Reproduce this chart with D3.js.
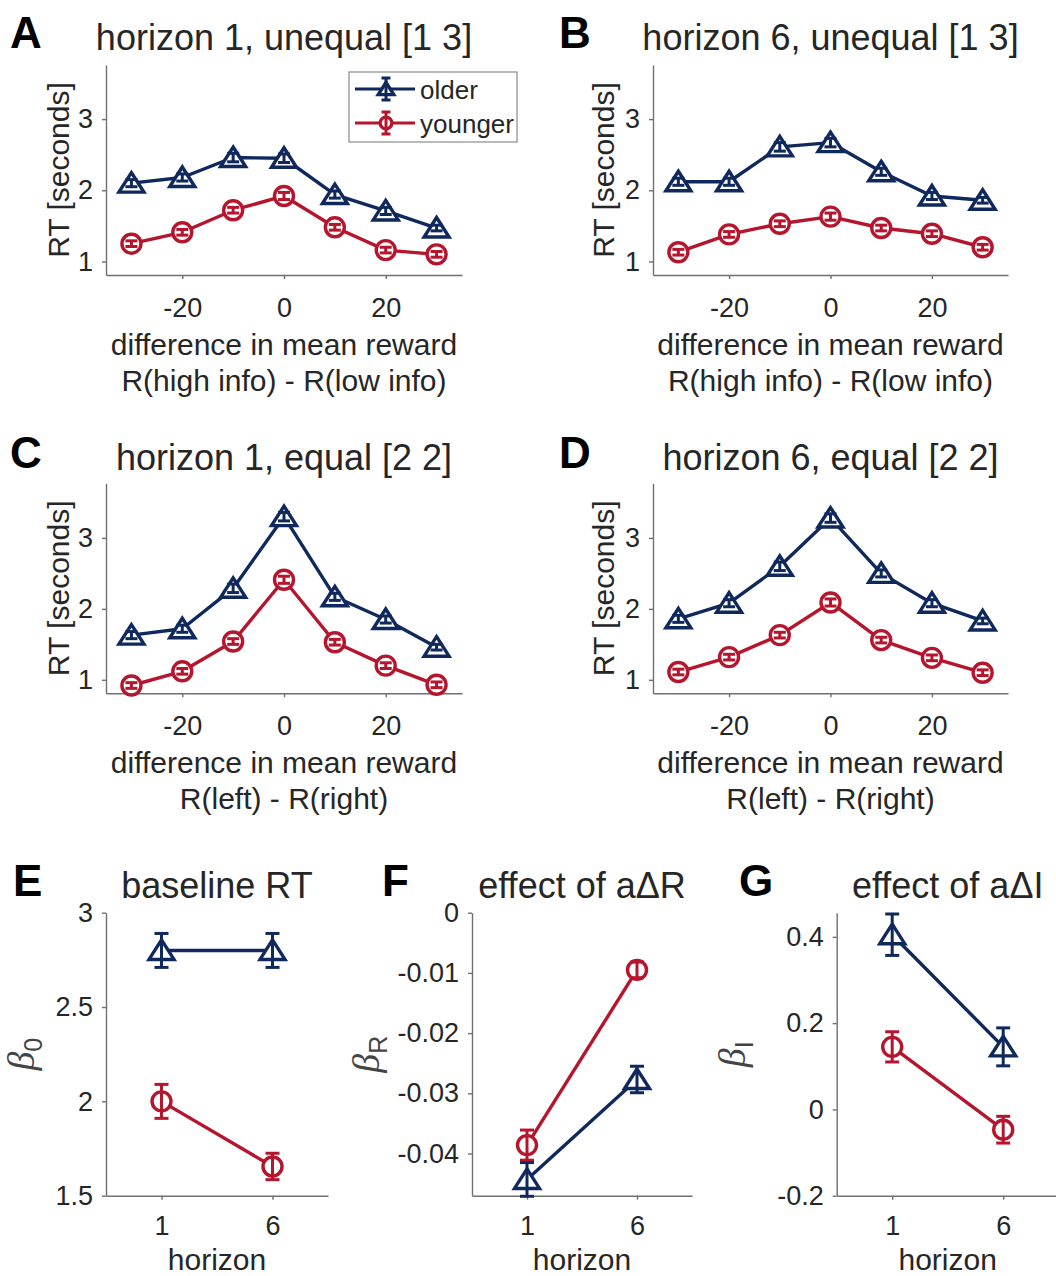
<!DOCTYPE html>
<html>
<head>
<meta charset="utf-8">
<script src="https://cdn.jsdelivr.net/npm/d3@7"></script>
<style>
  body { margin: 0; background: #fff; }
  text { font-family: "Liberation Sans", Arial, sans-serif; fill: #262626; }
</style>
</head>
<body>
<svg id="fig" width="1056" height="1276"></svg>
<script>
// ---- data ----
const rewardDiffs = [-30, -20, -10, 0, 10, 20, 30];

const olderA = [2.10, 2.18, 2.46, 2.45, 1.94, 1.71, 1.47];
const youngerA = [1.25, 1.41, 1.72, 1.92, 1.48, 1.16, 1.10];
const olderB = [2.12, 2.12, 2.61, 2.67, 2.26, 1.92, 1.86];
const youngerB = [1.13, 1.38, 1.53, 1.63, 1.47, 1.39, 1.20];
const olderC = [1.63, 1.72, 2.29, 3.30, 2.17, 1.85, 1.46];
const youngerC = [0.92, 1.12, 1.54, 2.41, 1.53, 1.20, 0.93];
const olderD = [1.86, 2.08, 2.60, 3.28, 2.50, 2.08, 1.83];
const youngerD = [1.11, 1.32, 1.63, 2.09, 1.56, 1.31, 1.10];

const olderErrRT = [0.05, 0.05, 0.06, 0.06, 0.05, 0.05, 0.04];
const youngerErrRT = [0.04, 0.04, 0.04, 0.05, 0.04, 0.04, 0.04];

const horizons = [1, 6];
const olderBaseline = [2.80, 2.80];
const olderBaselineErr = [0.09, 0.09];
const youngerBaseline = [2.00, 1.655];
const youngerBaselineErr = [0.09, 0.07];

const olderBetaR = [-0.0443, -0.0277];
const olderBetaRErr = [0.0028, 0.0022];
const youngerBetaR = [-0.0386, -0.0095];
const youngerBetaRErr = [0.0025, 0.0013];

const olderBetaI = [0.405, 0.145];
const olderBetaIErr = [0.048, 0.044];
const youngerBetaI = [0.145, -0.047];
const youngerBetaIErr = [0.035, 0.031];

const groupNames = ['older', 'younger'];
const rtTicksX = [-20, 0, 20];
const rtTicksY = [1, 2, 3];

// ---- style ----
const COLORS = { older: '#10295c', younger: '#b5152d' };
const AXIS_GRAY = '#707070';
const LINE_W = 3.4;

const svg = d3.select('#fig');

const trianglePath = 'M0,-10.5 L12.5,9 L-12.5,9 Z';

const drawMarker = (sel, group, cx, cy, part, scale = 1) => {
  const color = COLORS[group];
  const m = sel.append('g').attr('transform', `translate(${cx},${cy}) scale(${scale})`);
  if (group === 'older') {
    m.append('path')
      .attr('d', trianglePath)
      .attr('fill', part === 'fill' ? '#fff' : 'none')
      .attr('stroke', part === 'fill' ? 'none' : color)
      .attr('stroke-width', LINE_W / scale)
      .attr('stroke-linejoin', 'miter');
  } else {
    m.append('circle')
      .attr('r', 9.5)
      .attr('fill', part === 'fill' ? '#fff' : 'none')
      .attr('stroke', part === 'fill' ? 'none' : color)
      .attr('stroke-width', LINE_W / scale);
  }
};

const drawErrorBar = (sel, color, cx, yLo, yHi, cap) => {
  const g = sel.append('g').attr('stroke', color).attr('stroke-width', 3);
  g.append('line').attr('x1', cx).attr('x2', cx).attr('y1', yLo).attr('y2', yHi);
  g.append('line').attr('x1', cx - cap).attr('x2', cx + cap).attr('y1', yLo).attr('y2', yLo);
  g.append('line').attr('x1', cx - cap).attr('x2', cx + cap).attr('y1', yHi).attr('y2', yHi);
};

const drawPanel = (p) => {
  const g = svg.append('g');
  const x = d3.scaleLinear().domain(p.xDomain).range([p.left, p.right]);
  const y = d3.scaleLinear().domain(p.yDomain).range([p.bottom, p.top]);

  // axes
  const xAxis = g.append('g')
    .attr('transform', `translate(0,${p.bottom})`)
    .call(d3.axisBottom(x).tickValues(p.xTicks).tickSize(4).tickSizeOuter(0)
      .tickPadding(p.xPad).tickFormat((d) => String(d)));
  const yAxis = g.append('g')
    .attr('transform', `translate(${p.left},0)`)
    .call(d3.axisLeft(y).tickValues(p.yTicks).tickSize(4).tickSizeOuter(0)
      .tickPadding(9).tickFormat((d) => String(d)));
  [xAxis, yAxis].forEach((a) => {
    a.attr('font-size', 27).attr('font-family', null);
    a.selectAll('path.domain').attr('stroke', AXIS_GRAY).attr('stroke-width', 1.4);
    a.selectAll('.tick line').attr('stroke', AXIS_GRAY).attr('stroke-width', 1.4);
    a.selectAll('.tick text').style('fill', '#262626');
  });

  // series
  p.series.forEach((s) => {
    const pts = p.xs.map((xv, i) => [x(xv), y(s.values[i])]);
    g.append('path')
      .attr('d', d3.line()(pts))
      .attr('fill', 'none')
      .attr('stroke', COLORS[s.group])
      .attr('stroke-width', LINE_W)
      .attr('stroke-linejoin', 'round');
  });
  p.series.forEach((s) => {
    p.xs.forEach((xv, i) => {
      drawMarker(g, s.group, x(xv), y(s.values[i]), 'fill');
      drawErrorBar(g, COLORS[s.group], x(xv),
        y(s.values[i] - s.errors[i]), y(s.values[i] + s.errors[i]), p.cap);
      drawMarker(g, s.group, x(xv), y(s.values[i]), 'stroke');
    });
  });

  const cx = (p.left + p.right) / 2;
  const cy = (p.top + p.bottom) / 2;

  // title and panel letter
  g.append('text').attr('x', cx).attr('y', p.titleY)
    .attr('text-anchor', 'middle').attr('font-size', 36).text(p.title);
  g.append('text').attr('x', p.letterX).attr('y', p.titleY - 2)
    .attr('font-size', 44).attr('font-weight', 'bold').style('fill', '#000').text(p.letter);

  // x label(s)
  p.xLabels.forEach((t, i) => {
    g.append('text').attr('x', cx).attr('y', p.bottom + p.xLabelDy[i])
      .attr('text-anchor', 'middle').attr('font-size', 30).text(t);
  });

  // y label
  if (p.yLabelBeta) {
    const t = g.append('text')
      .attr('transform', `translate(${p.yLabelX},${cy}) rotate(-90)`)
      .attr('text-anchor', 'middle');
    t.append('tspan').attr('font-family', '"Liberation Serif", serif')
      .attr('font-style', 'italic').attr('font-size', 38).style('fill', '#444').text('β');
    t.append('tspan').attr('font-size', 25).attr('dy', 8).style('fill', '#444').text(p.yLabelBeta);
  } else {
    g.append('text')
      .attr('transform', `translate(${p.yLabelX},${cy}) rotate(-90)`)
      .attr('text-anchor', 'middle').attr('font-size', 30).text(p.yLabel);
  }
  return { g, x, y };
};

const rtSeries = (older, younger) => [
  { group: 'older', values: older, errors: olderErrRT },
  { group: 'younger', values: younger, errors: youngerErrRT },
];

const topRow = { top: 65, bottom: 275, yDomain: [0.81, 3.76], titleY: 50 };
const midRow = { top: 483.3, bottom: 693.3, yDomain: [0.81, 3.77], titleY: 470 };
const leftCol = { left: 106, right: 462, letterX: 10 };
const rightCol = { left: 653, right: 1008, letterX: 559 };
const rtCommon = {
  xs: rewardDiffs, xDomain: [-35, 35], xTicks: rtTicksX, yTicks: rtTicksY,
  xPad: 19, cap: 6, xLabelDy: [80, 116], yLabel: 'RT [seconds]',
};

drawPanel({
  ...rtCommon, ...topRow, ...leftCol, yLabelX: 69, letter: 'A',
  title: 'horizon 1, unequal [1 3]',
  xLabels: ['difference in mean reward', 'R(high info) - R(low info)'],
  series: rtSeries(olderA, youngerA),
});
drawPanel({
  ...rtCommon, ...topRow, ...rightCol, yLabelX: 614, letter: 'B',
  title: 'horizon 6, unequal [1 3]',
  xLabels: ['difference in mean reward', 'R(high info) - R(low info)'],
  series: rtSeries(olderB, youngerB),
});
drawPanel({
  ...rtCommon, ...midRow, ...leftCol, yLabelX: 69, letter: 'C',
  title: 'horizon 1, equal [2 2]',
  xLabels: ['difference in mean reward', 'R(left) - R(right)'],
  series: rtSeries(olderC, youngerC),
});
drawPanel({
  ...rtCommon, ...midRow, ...rightCol, yLabelX: 614, letter: 'D',
  title: 'horizon 6, equal [2 2]',
  xLabels: ['difference in mean reward', 'R(left) - R(right)'],
  series: rtSeries(olderD, youngerD),
});

const bottomRow = {
  top: 912.7, bottom: 1195.7, titleY: 898, xs: horizons, xDomain: [-1.5, 8.5],
  xTicks: horizons, xPad: 16, cap: 7, xLabels: ['horizon'], xLabelDy: [74],
};

drawPanel({
  ...bottomRow, left: 106, right: 328, letterX: 13, letter: 'E',
  title: 'baseline RT', yDomain: [1.5, 3], yTicks: [1.5, 2, 2.5, 3],
  yLabelBeta: '0', yLabelX: 34,
  series: [
    { group: 'older', values: olderBaseline, errors: olderBaselineErr },
    { group: 'younger', values: youngerBaseline, errors: youngerBaselineErr },
  ],
});
drawPanel({
  ...bottomRow, left: 472, right: 692, letterX: 382, letter: 'F',
  title: 'effect of a\u0394R', yDomain: [-0.047, 0], yTicks: [-0.04, -0.03, -0.02, -0.01, 0],
  yLabelBeta: 'R', yLabelX: 379,
  series: [
    { group: 'younger', values: youngerBetaR, errors: youngerBetaRErr },
    { group: 'older', values: olderBetaR, errors: olderBetaRErr },
  ],
});
drawPanel({
  ...bottomRow, left: 836.7, right: 1058.7, letterX: 739, letter: 'G',
  title: 'effect of a\u0394I', yDomain: [-0.2, 0.456], yTicks: [-0.2, 0, 0.2, 0.4],
  yLabelBeta: 'I', yLabelX: 745,
  series: [
    { group: 'older', values: olderBetaI, errors: olderBetaIErr },
    { group: 'younger', values: youngerBetaI, errors: youngerBetaIErr },
  ],
});

// ---- legend (inside panel A) ----
const legend = svg.append('g');
legend.append('rect')
  .attr('x', 349).attr('y', 72).attr('width', 168).attr('height', 70)
  .attr('fill', '#fff').attr('stroke', '#8a8a8a').attr('stroke-width', 1.2);
groupNames.forEach((name, i) => {
  const ly = 89 + i * 34;
  legend.append('line').attr('x1', 355).attr('x2', 415).attr('y1', ly).attr('y2', ly)
    .attr('stroke', COLORS[name]).attr('stroke-width', 3);
  drawMarker(legend, name, 386, ly, 'fill', 0.62);
  drawErrorBar(legend, COLORS[name], 386, ly + 11, ly - 11, 4.5);
  drawMarker(legend, name, 386, ly, 'stroke', 0.62);
  legend.append('text').attr('x', 420).attr('y', ly + 10)
    .attr('font-size', 26).text(name);
});
</script>
</body>
</html>
